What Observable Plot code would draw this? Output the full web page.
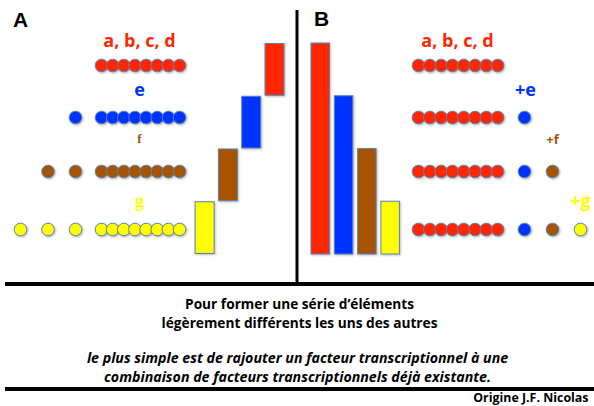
<!DOCTYPE html>
<html><head><meta charset="utf-8">
<script src="https://cdn.jsdelivr.net/npm/d3@7"></script>
<script src="https://cdn.jsdelivr.net/npm/@observablehq/plot@0.6"></script>
<style>body{margin:0;background:#fff}#chart svg{display:block}</style>
</head><body><div id="chart"></div>
<script>
// ---- data ----
const factors = ["abcd", "e", "f", "g"];
const factorColors = ["#ff2600", "#0033ff", "#a65400", "#ffff00"];
const clusterSize = 8;                       // dots in the base combination
const labelsA = ["a, b, c, d", "e", "f", "g"];
const labelsB = ["a, b, c, d", "+e", "+f", "+g"];
const barBaseA = [3, 2, 1, 0];               // staircase: each factor one level
const barTopB = [4, 3, 2, 1];                // cumulative combinations
const panelLabels = ["A", "B"];
const captionBold = ["Pour former une série d\u2019éléments", "légèrement différents les uns des autres"];
const captionItalic = ["le plus simple est de rajouter un facteur transcriptionnel à une", "combinaison de facteurs transcriptionnels déjà existante."];
const credit = "Origine J.F. Nicolas";

// ---- layout (pixels / levels) ----
const W = 594, H = 406;
const lv = px => (254 - px) / 52.75;         // pixel row -> level unit
const rowY = [65, 117, 171, 229];
const labelY = [41, 90, 138, 201];
const outline = "#5b82bd";

const dotsA = [], dotsB = [];
factors.forEach((f, i) => {
  for (let k = 0; k < clusterSize; k++) {
    dotsA.push({x: 101 + k * 11.15, y: lv(rowY[i]), c: factorColors[i]});
    dotsB.push({x: 418 + k * 11.3, y: lv(rowY[i]), c: factorColors[0]});
  }
  for (let k = 0; k < i; k++) {
    dotsA.push({x: 75 - k * 27.5, y: lv(rowY[i]), c: factorColors[i]});
    dotsB.push({x: 524 + k * 28, y: lv(rowY[i]), c: factorColors[k + 1]});
  }
});
const barsA = factors.map((f, i) => ({x1: 265 - i * 23.3, x2: 284 - i * 23.3, y1: barBaseA[i], y2: barBaseA[i] + 1, c: factorColors[i]}));
const barsB = factors.map((f, i) => ({x1: 311 + i * 23.3, x2: 329.5 + i * 23.3, y1: 0, y2: barTopB[i], c: factorColors[i]}));

const textA = labelsA.map((t, i) => ({t, x: 139, y: lv(labelY[i]), c: factorColors[i], s: i === 2 ? 13 : 18, fam: i >= 2 ? "Liberation Serif" : "Open Sans"}));
const textB = labelsB.map((t, i) => ({t, x: [457, 525, 552, 580][i], y: lv([41, 90, 139, 201][i]), c: factorColors[i], s: i === 2 ? 13 : 18, fam: "Open Sans"}));

const chart = Plot.plot({
  width: W, height: H,
  margin: 0,
  x: {domain: [0, W], range: [0, W], axis: null},
  y: {domain: [lv(H), lv(0)], axis: null},
  marks: [
    // frame lines
    Plot.ruleX([296.5], {y1: lv(10), y2: lv(284), stroke: "#000", strokeWidth: 3}),
    Plot.ruleY([lv(283.5), lv(388.5)], {x1: 5, x2: W, stroke: "#000", strokeWidth: 4}),
    // bars
    Plot.rect(barsA, {x1: "x1", x2: "x2", y1: "y1", y2: "y2", fill: "c", stroke: outline, strokeWidth: 1, insetTop: 0.5, insetBottom: 0.5}),
    Plot.rect(barsB, {x1: "x1", x2: "x2", y1: "y1", y2: "y2", fill: "c", stroke: outline, strokeWidth: 1}),
    // dots
    Plot.dot(dotsA, {x: "x", y: "y", r: 6.3, fill: "c", stroke: outline, strokeWidth: 1}),
    Plot.dot(dotsB, {x: "x", y: "y", r: 6.3, fill: "c", stroke: outline, strokeWidth: 1}),
    // factor labels
    ...textA.map(d => Plot.text([d], {x: "x", y: "y", text: "t", fill: d.c, fontSize: d.s, fontWeight: "bold", fontFamily: d.fam})),
    ...textB.map(d => Plot.text([d], {x: "x", y: "y", text: "t", fill: d.c, fontSize: d.s, fontWeight: "bold", fontFamily: d.fam})),
    // panel labels
    Plot.text(panelLabels, {x: [20, 321], y: [lv(20), lv(19)], text: d => d, fontSize: 21, fontWeight: "bold", fontFamily: "Liberation Sans", fill: "#000"}),
    // caption
    Plot.text(captionBold, {x: 299, y: [lv(304), lv(323)], text: d => d, fontSize: 13.7, fontWeight: "bold", fontFamily: "Open Sans", fill: "#000"}),
    Plot.text(captionItalic, {x: 297, y: [lv(358), lv(377)], text: d => d, fontSize: 14.2, fontWeight: "bold", fontStyle: "italic", fontFamily: "Open Sans", fill: "#000"}),
    Plot.text([credit], {x: 588, y: lv(398), text: d => d, textAnchor: "end", fontSize: 12.4, fontWeight: "bold", fontFamily: "Open Sans", fill: "#000"})
  ]
});
d3.select(chart).selectAll("circle").style("filter", "drop-shadow(1px 1.5px 1px rgba(0,0,0,0.3))");
d3.select(chart).selectAll("rect").style("filter", "drop-shadow(1px 1.5px 1px rgba(0,0,0,0.25))");
document.getElementById("chart").appendChild(chart);
</script></body></html>
